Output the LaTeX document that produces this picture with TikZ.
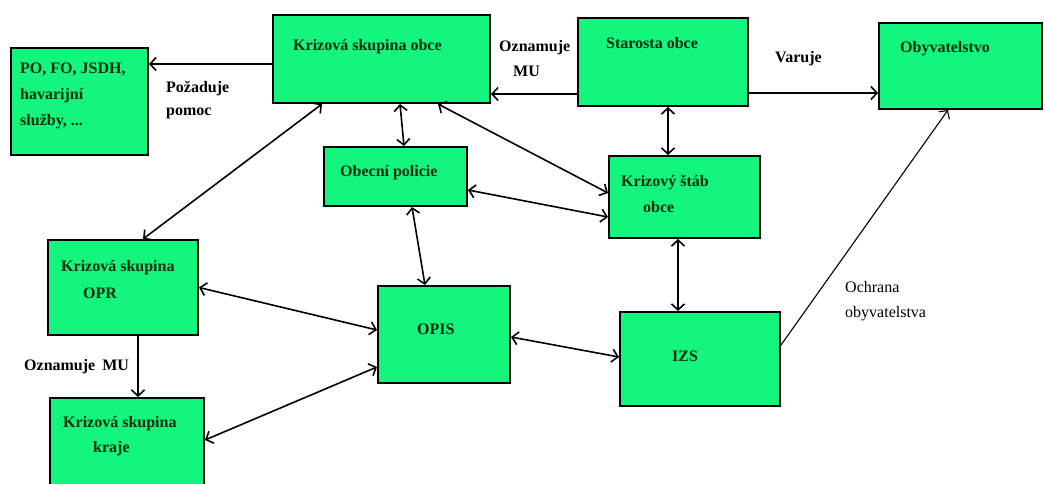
\documentclass[tikz,border=0pt]{standalone}
\usepackage{fontspec}
\setmainfont{Liberation Serif}
\usepackage{tikz}
\usetikzlibrary{arrows.meta}

\definecolor{boxgreen}{RGB}{20,245,125}
\definecolor{textgreen}{RGB}{5,45,10}

\begin{document}
\begin{tikzpicture}[x=1pt,y=-1pt,
  box/.style={draw,line width=2.4pt,fill=boxgreen,inner sep=0pt},
  txt/.style={font=\bfseries\fontsize{16}{26}\selectfont,text=textgreen,anchor=base west,inner sep=0pt,align=left},
  lbl/.style={font=\bfseries\fontsize{16}{23}\selectfont,anchor=base west,inner sep=0pt,align=left},
  link/.style={line width=1.6pt},
  >={Straight Barb[length=6pt,width=13pt]}]
\useasboundingbox (0,0) rectangle (1045,484);

\node[box,minimum width=136.6pt,minimum height=106.6pt] at (79.5,101.5) (po) {};
\node[box,minimum width=216.6pt,minimum height=87.6pt] at (381.5,59) (kso) {};
\node[box,minimum width=169.6pt,minimum height=87.6pt] at (663,62) (sta) {};
\node[box,minimum width=162.6pt,minimum height=85.6pt] at (960.5,66) (oby) {};
\node[box,minimum width=142.6pt,minimum height=58.6pt] at (395.5,176.5) (pol) {};
\node[box,minimum width=150.6pt,minimum height=81.6pt] at (684.5,197) (stab) {};
\node[box,minimum width=149.6pt,minimum height=94.6pt] at (123,287.5) (opr) {};
\node[box,minimum width=153.6pt,minimum height=95.6pt] at (127,446) (kraj) {};
\node[box,minimum width=131.6pt,minimum height=96.6pt] at (444,334.5) (opis) {};
\node[box,minimum width=159.6pt,minimum height=93.6pt] at (700,359) (izs) {};

\node[txt] at (20,126) (pot) {PO, FO, JSDH,\\havarijní\\služby, ...};
\node[txt] at (293,51) (ksot) {Krizová skupina obce};
\node[txt] at (606,49) (stat) {Starosta obce};
\node[txt] at (900,53) (obyt) {Obyvatelstvo};
\node[txt] at (340,177) (polt) {Obecní policie};
\node[txt] at (621,213) (stabt) {Krizový štáb\\\hspace*{22pt}obce};
\node[txt,font=\bfseries\fontsize{16}{27}\selectfont] at (61,298) (oprt) {Krizová skupina\\\hspace*{22pt}OPR};
\node[txt,font=\bfseries\fontsize{16}{25}\selectfont] at (63,452) (krajt) {Krizová skupina\\\hspace*{30pt}kraje};
\node[txt] at (417,334) (opist) {OPIS};
\node[txt] at (672,361) (izst) {IZS};

\node[lbl] at (166,116) (pozad) {Požaduje\\pomoc};
\node[lbl,font=\bfseries\fontsize{16}{25}\selectfont] at (499,77) (ozn) {Oznamuje\\\hspace*{14pt}MU};
\node[lbl] at (775,63) (var) {Varuje};
\node[lbl] at (24,370) (ozn2) {Oznamuje\hspace*{7pt}MU};
\node[lbl,font=\fontsize{16}{25}\selectfont] at (845,317) (ochr) {Ochrana\\obyvatelstva};

\draw[link,->] ([yshift=-5pt]kso.west) -- ([yshift=37.5pt]po.east);
\draw[link,->] ([yshift=-32pt]sta.west) -- ([yshift=-35pt]kso.east);
\draw[link,->] ([yshift=-31pt]sta.east) -- ([yshift=-27pt]oby.west);
\draw[link,<->] ([xshift=5pt]sta.south) -- ([xshift=-16.5pt]stab.north);
\draw[link,<->] ([xshift=18.5pt]kso.south) -- ([xshift=8.5pt]pol.north);
\draw[link,<->] ([xshift=56.5pt]kso.south) -- ([yshift=4pt]stab.west);
\draw[link,<->] ([yshift=-13.5pt]pol.east) -- ([yshift=-20pt]stab.west);
\draw[link,<->] ([xshift=16.5pt]pol.south) -- ([xshift=-19pt]opis.north);
\draw[link,<->] ([xshift=-6.5pt]stab.south) -- ([xshift=-22pt]izs.north);
\draw[link,<->] ([yshift=-2.5pt]opis.east) -- ([yshift=2pt]izs.west);
\draw[link,<->] ([xshift=-59.5pt]kso.south) -- ([xshift=20pt]opr.north);
\draw[link,<->] (opr.east) -- ([yshift=4.5pt]opis.west);
\draw[link,<->] ([yshift=6pt]kraj.east) -- ([yshift=-32.5pt]opis.west);
\draw[link,->] ([xshift=15pt]opr.south) -- ([xshift=11pt]kraj.north);
\draw[line width=1.1pt,->] ([yshift=14pt]izs.east) -- ([xshift=-12.5pt]oby.south);
\end{tikzpicture}
\end{document}
